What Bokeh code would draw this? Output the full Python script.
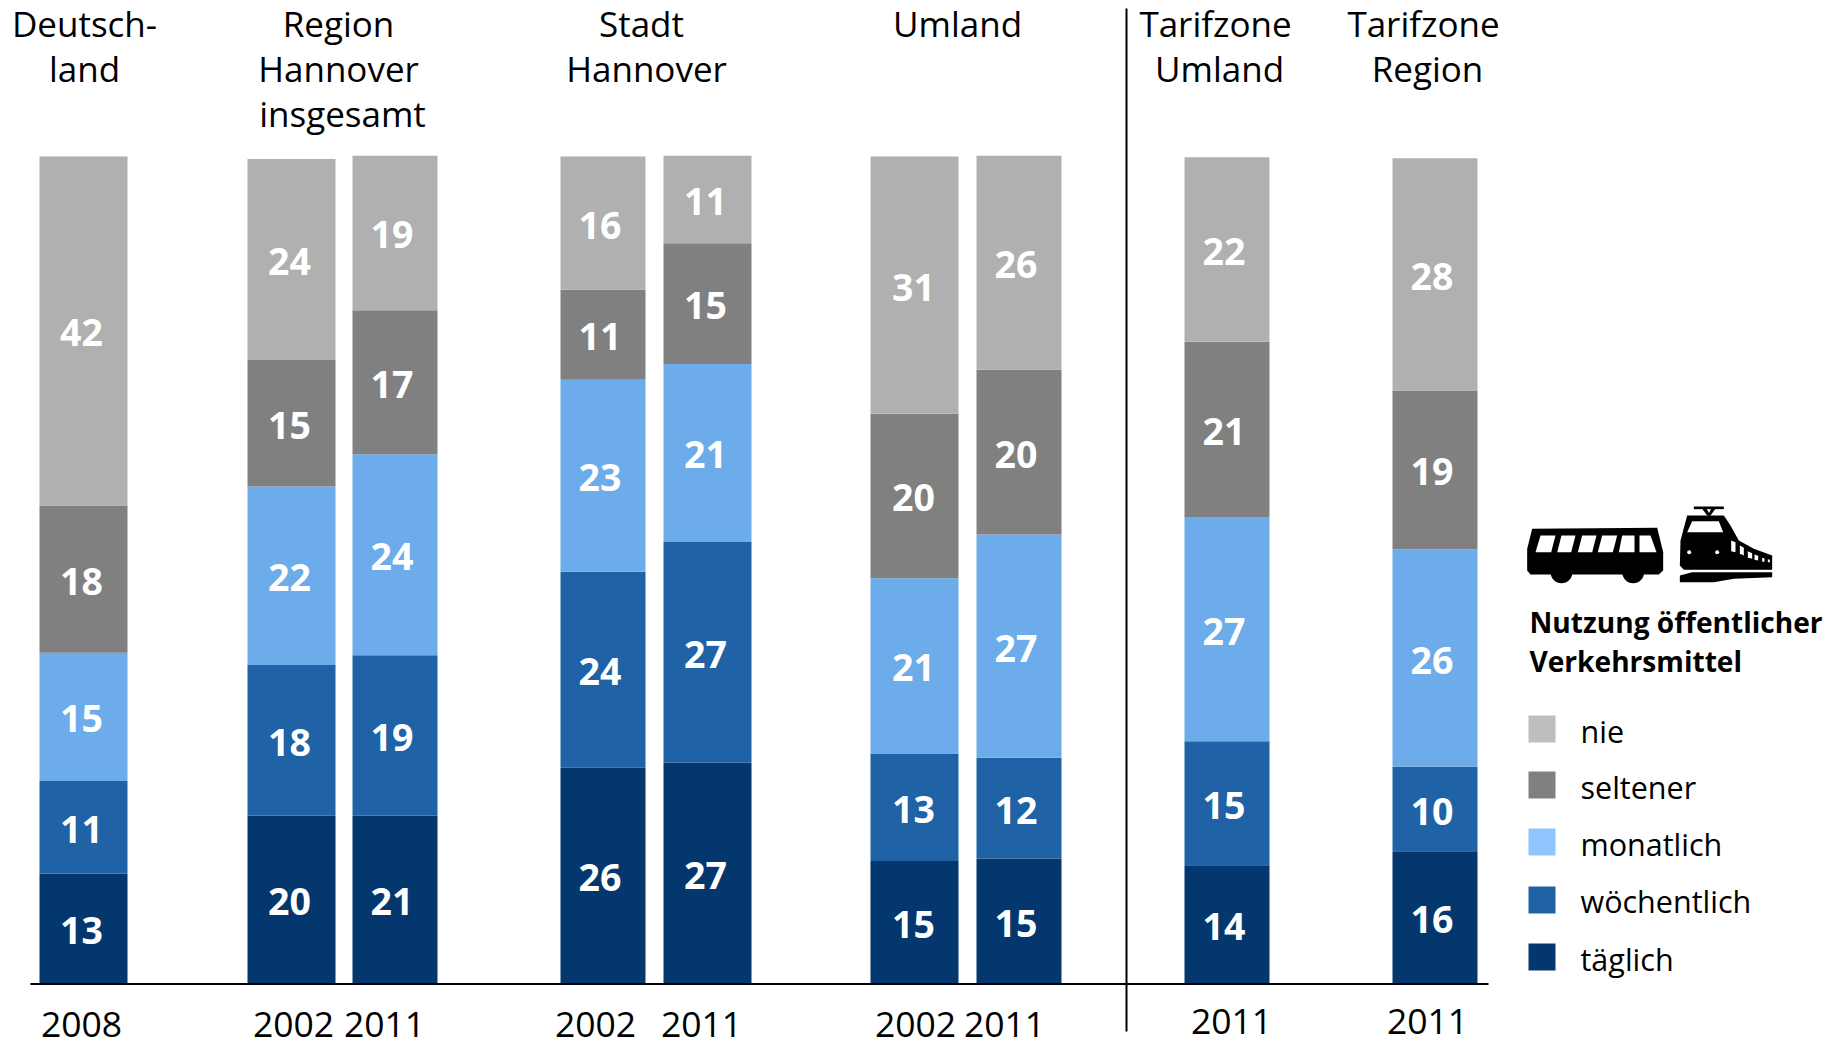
from bokeh.embed import file_html
from bokeh.resources import INLINE
from bokeh.plotting import figure
from bokeh.models import Range1d
from bokeh.core.properties import value

# ---- data (percent shares as drawn, and the rounded labels printed on them)
series = ["täglich", "wöchentlich", "monatlich", "seltener", "nie"]
taeglich    = [13.3, 20.3, 20.3, 26.1, 26.7, 14.8, 15.1, 14.3, 16.0]
woechentlich = [11.2, 18.2, 19.4, 23.7, 26.7, 13.0, 12.2, 15.0, 10.2]
monatlich   = [15.5, 21.6, 24.3, 23.2, 21.5, 21.2, 27.0, 27.1, 26.3]
seltener    = [17.8, 15.3, 17.4, 10.9, 14.6, 19.9, 19.9, 21.2, 19.2]
nie         = [42.2, 24.3, 18.7, 16.1, 10.6, 31.1, 25.9, 22.3, 28.1]
taeglich_lab    = [13, 20, 21, 26, 27, 15, 15, 14, 16]
woechentlich_lab = [11, 18, 19, 24, 27, 13, 12, 15, 10]
monatlich_lab   = [15, 22, 24, 23, 21, 21, 27, 27, 26]
seltener_lab    = [18, 15, 17, 11, 15, 20, 20, 21, 19]
nie_lab         = [42, 24, 19, 16, 11, 31, 26, 22, 28]
years = ["2008", "2002", "2011", "2002", "2011", "2002", "2011", "2011", "2011"]
headers = [["Deutsch-", "land"], ["Region", "Hannover", "insgesamt"], ["Stadt", "Hannover"],
           ["Umland"], ["Tarifzone", "Umland"], ["Tarifzone", "Region"]]
legend_title = ["Nutzung öffentlicher", "Verkehrsmittel"]

# ---- layout (page pixels)
W, H = 1832, 1043
BASE = 983.0
K = 8.27
bar_l = [39, 247, 352, 560, 663, 870, 976, 1184, 1392]
bar_r = [127, 335, 437, 645, 751, 958, 1061, 1269, 1477]
label_dx = [-2, -2, -3, -3, -2, -1, -3, -3, -3]
label_dy = 2
year_x = [81, 293, 384, 595, 701, 915, 1004, 1231, 1427]
year_y = [1037, 1037, 1037, 1037, 1037, 1037, 1037, 1034, 1034]
header_x = [[84, 84], [338, 338, 342], [641, 646], [957], [1215, 1219], [1423, 1427]]
header_y = [36, 81, 126]
bar_col = ["#03376D", "#1F62A5", "#6DACEB", "#808080", "#B0B0B0"]
leg_col = ["#BEBEBE", "#808080", "#8EC5FF", "#1F62A5", "#03376D"]
leg_names = ["nie", "seltener", "monatlich", "wöchentlich", "täglich"]
leg_top = [715, 771, 828, 886, 943]
leg_base = [742, 798, 855, 912, 970]
FONT = "Open Sans"
SHIFT = 0.38  # the svg text baseline sits this many em below the requested y
YEAR_SIZE, HEAD_SIZE, LEG_SIZE, TITLE_SIZE = 35.5, 35, 30.5, 28.1


def py(y):
    return (BASE - y) / K


p = figure(width=W, height=H, output_backend="svg", toolbar_location=None,
           x_range=Range1d(0, W),
           y_range=Range1d(py(H), py(0)),
           min_border=0, min_border_left=0, min_border_right=0,
           min_border_top=0, min_border_bottom=0,
           outline_line_color=None, background_fill_color="white")
p.axis.visible = False
p.grid.visible = False

# stacked bars
stack = [taeglich, woechentlich, monatlich, seltener, nie]
labs = [taeglich_lab, woechentlich_lab, monatlich_lab, seltener_lab, nie_lab]
bottoms = [0.0] * len(bar_l)
tx, ty, tt = [], [], []
for vals, lab, col in zip(stack, labs, bar_col):
    tops = [b + v for b, v in zip(bottoms, vals)]
    p.quad(left=bar_l, right=bar_r, bottom=bottoms, top=tops, fill_color=col, line_color=None)
    for i in range(len(vals)):
        tx.append((bar_l[i] + bar_r[i]) / 2 + label_dx[i])
        ty.append((bottoms[i] + tops[i]) / 2 - label_dy / K)
        tt.append(str(lab[i]))
    bottoms = tops
p.text(x=tx, y=ty, text=tt, text_color="white", text_font=value(FONT), text_font_style="bold",
       text_font_size="37.5px", text_align="center", text_baseline="middle")

# base line and separator
p.segment(x0=[30], x1=[1488], y0=[py(983.5)], y1=[py(983.5)], line_color="black", line_width=2)
p.segment(x0=[1126], x1=[1126], y0=[py(8)], y1=[py(1031)], line_color="black", line_width=2)

# years
p.text(x=year_x, y=[py(v - SHIFT * YEAR_SIZE) for v in year_y], text=years, text_color="black",
       text_font=value(FONT), text_font_size=f"{YEAR_SIZE}px", text_align="center",
       text_baseline="alphabetic")

# headers
hx, hy, ht = [], [], []
for lines, xs in zip(headers, header_x):
    for j, (s, x) in enumerate(zip(lines, xs)):
        hx.append(x)
        hy.append(py(header_y[j] - SHIFT * HEAD_SIZE))
        ht.append(s)
p.text(x=hx, y=hy, text=ht, text_color="black", text_font=value(FONT),
       text_font_size=f"{HEAD_SIZE}px", text_align="center", text_baseline="alphabetic")

# legend
p.quad(left=[1528] * 5, right=[1555] * 5, top=[py(v) for v in leg_top],
       bottom=[py(v + 27) for v in leg_top], fill_color=leg_col, line_color=None)
p.text(x=[1580] * 5, y=[py(v - SHIFT * LEG_SIZE) for v in leg_base], text=leg_names, text_color="black",
       text_font=value(FONT), text_font_size=f"{LEG_SIZE}px", text_baseline="alphabetic")
p.text(x=[1529, 1529], y=[py(632 - SHIFT * TITLE_SIZE), py(671 - SHIFT * TITLE_SIZE)], text=legend_title,
       text_color="black", text_font=value(FONT), text_font_style="bold",
       text_font_size=f"{TITLE_SIZE}px", text_baseline="alphabetic")


# icons, in crop coordinates (3x, origin 1480,480)
def ix(v):
    return 1480 + v / 3


def iy(v):
    return py(480 + v / 3)


def poly(points, color):
    p.patch([ix(a) for a, _ in points], [iy(b) for _, b in points], fill_color=color, line_color=None)


def disc(cx, cy, r, color):
    p.circle(x=[ix(cx)], y=[iy(cy)], radius=r / 3, fill_color=color, line_color=None)


poly([(140, 270), (140, 205), (155, 145), (530, 142), (548, 215), (548, 270), (535, 282), (150, 282)], "black")
for w in [[(165, 215), (180, 165), (225, 165), (212, 215)], [(230, 215), (243, 165), (285, 165), (272, 215)],
          [(292, 215), (305, 165), (348, 165), (335, 215)], [(352, 215), (365, 165), (410, 165), (397, 215)],
          [(415, 215), (425, 165), (462, 165), (462, 215)], [(477, 215), (477, 165), (510, 165), (528, 215)]]:
    poly(w, "white")
disc(243, 275, 33, "black")
disc(458, 275, 33, "black")
poly([(598, 255), (600, 180), (620, 105), (730, 105), (750, 135), (775, 180), (820, 205), (875, 225),
      (875, 268), (610, 268)], "black")
poly([(598, 305), (598, 285), (635, 275), (875, 275), (875, 290), (760, 295), (700, 305)], "black")
poly([(640, 78), (730, 78), (730, 86), (640, 86)], "black")
poly([(665, 85), (678, 85), (690, 105), (680, 105)], "black")
poly([(705, 85), (692, 85), (682, 105), (690, 105)], "black")
poly([(620, 155), (635, 122), (715, 122), (728, 155)], "white")
for w in [[(752, 180), (765, 185), (765, 215), (752, 212)], [(778, 195), (790, 202), (790, 225), (778, 220)],
          [(802, 212), (815, 218), (815, 235), (802, 232)], [(822, 222), (833, 226), (833, 240), (822, 238)],
          [(845, 232), (852, 234), (852, 244), (845, 244)], [(862, 236), (868, 238), (868, 245), (862, 245)]]:
    poly(w, "white")
disc(626, 215, 6, "white")
disc(710, 215, 6, "white")

open("out.html", "w").write(file_html(p, INLINE))
